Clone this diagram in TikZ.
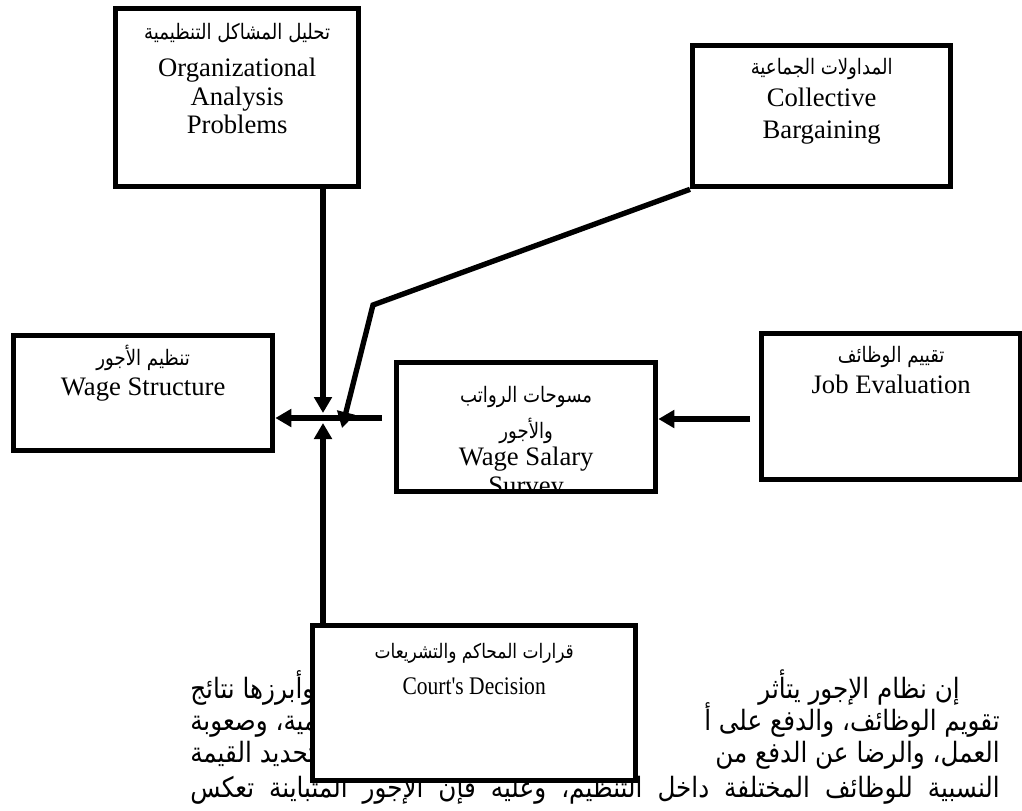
\documentclass[tikz,border=0pt]{standalone}
\usepackage{fontspec}
\setmainfont{Liberation Serif}
\newfontfamily\arlabel[Script=Arabic,FakeStretch=0.85]{DejaVu Sans}
\newfontfamily\arbody[Script=Arabic,FakeStretch=0.88]{DejaVu Sans}
\newfontfamily\narrowserif[FakeStretch=0.85]{Liberation Serif}
\TeXXeTstate=1
\usetikzlibrary{arrows.meta,positioning}

\begin{document}
\begin{tikzpicture}[x=0.75pt,y=-0.75pt,
  box/.style={draw,line width=4pt,fill=white,anchor=north west,inner sep=0pt},
  lbl/.style={align=center,font=\fontsize{20}{21.5}\selectfont,inner sep=0pt},
  flow/.style={line width=4pt,-{Triangle[length=12pt,width=13pt]}},
  body/.style={font=\arbody\fontsize{21}{24}\selectfont,inner sep=0pt}]

  \useasboundingbox (0,0) rectangle (1022,811);

  % text under the court box
  \node[body,anchor=base east] (t1r) at (960,698) {\beginR إن نظام الإجور يتأثر\endR};
  \node[body,anchor=base west] (t1l) at (190,698) {\beginR ا بينها وأبرزها نتائج\endR};
  \node[body,anchor=base east] (t2r) at (1000,730) {\beginR تقويم الوظائف، والدفع على أ\endR};
  \node[body,anchor=base west] (t2l) at (190,730) {\beginR والأقدمية، وصعوبة\endR};
  \node[body,anchor=base east] (t3r) at (1000,762) {\beginR العمل، والرضا عن الدفع من\endR};
  \node[body,anchor=base west] (t3l) at (190,762) {\beginR لوظائف بتحديد القيمة\endR};
  \node[body,anchor=base east] (t4) at (1000,797)
    {\makebox[607pt][s]{\beginR النسبية للوظائف المختلفة داخل التنظيم، وعليه فإن الإجور المتباينة تعكس\endR}};

  % boxes
  \node[box,minimum width=182.25pt,minimum height=133.5pt] (org) at (113,6) {};
  \node[box,minimum width=193.5pt,minimum height=105.75pt] (coll) at (690,43) {};
  \node[box,minimum width=194.25pt,minimum height=86.25pt] (wstr) at (11,333) {};
  \node[box,minimum width=194.25pt,minimum height=96.75pt,
    path picture={\node[lbl,anchor=north] (surT) at ([yshift=-10pt]path picture bounding box.north)
      {{\arlabel\fontsize{16}{18}\selectfont\beginR مسوحات الرواتب\endR}\\[5pt]{\arlabel\fontsize{16}{18}\selectfont\beginR والأجور\endR}\\[-1pt]Wage Salary\\Survey};}] (survey) at (394,360) {};
  \node[box,minimum width=194.25pt,minimum height=109.5pt] (job) at (759,331) {};
  \node[box,minimum width=242.25pt,minimum height=116.25pt] (court) at (310,623) {};

  \node[lbl,below=13pt of org.north] (orgT)
    {{\arlabel\fontsize{16}{18}\selectfont\beginR تحليل المشاكل التنظيمية\endR}\\[6pt]Organizational\\Analysis\\Problems};
  \node[lbl,below=11pt of coll.north] (collT)
    {{\arlabel\fontsize{16}{18}\selectfont\beginR المداولات الجماعية\endR}\\[3pt]Collective\\[2pt]Bargaining};
  \node[lbl,below=9pt of wstr.north] (wstrT)
    {{\arlabel\fontsize{16}{18}\selectfont\beginR تنظيم الأجور\endR}\\[1pt]Wage Structure};
  \node[lbl,below=11pt of job.north] (jobT)
    {{\arlabel\fontsize{16}{18}\selectfont\beginR تقييم الوظائف\endR}\\[2pt]Job Evaluation};
  \node[lbl,below=15pt of court.north,font=\narrowserif\fontsize{19}{21}\selectfont] (courtT)
    {{\arlabel\fontsize{15}{17}\selectfont\beginR قرارات المحاكم والتشريعات\endR}\\[6pt]Court's Decision};

  % connectors
  \coordinate (hubE) at (382,418);
  \coordinate (hubN) at (323,413);
  \coordinate (hubS) at (323,423);
  \coordinate (bend) at (373,305);
  \coordinate (jobW) at (750,419);
  \draw[flow] (hubE) -- (wstr.east |- hubE);
  \draw[flow] (hubN |- org.south) -- (hubN);
  \draw[flow] (hubS |- court.north) -- (hubS);
  \draw[flow] (coll.south west) -- (bend) -- (342,428);
  \draw[flow] (jobW) -- (survey.east |- jobW);
\end{tikzpicture}
\end{document}
